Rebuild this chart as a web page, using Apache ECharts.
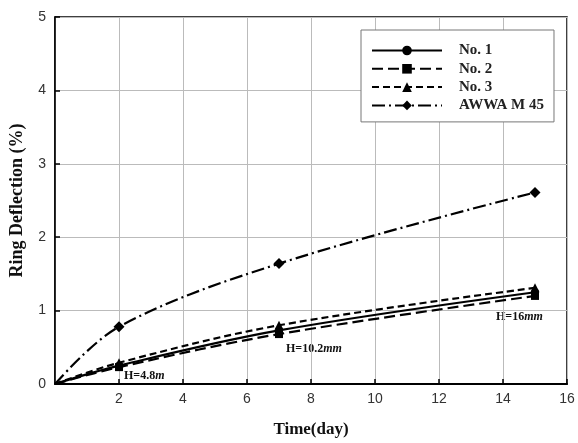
<!DOCTYPE html>
<html><head><meta charset="utf-8">
<script src="https://cdn.jsdelivr.net/npm/echarts@6/dist/echarts.min.js"></script>
<style>html,body{margin:0;padding:0;background:#fff}#c{width:578px;height:443px}</style>
</head><body><div id="c"></div>
<script>
var days = [0, 2, 7, 15];
var no1 = [0, 0.25, 0.73, 1.25];
var no2 = [0, 0.23, 0.68, 1.20];
var no3 = [0, 0.29, 0.80, 1.31];
var awwa = [0, 0.78, 1.64, 2.61];
var seriesNames = ['No. 1', 'No. 2', 'No. 3', 'AWWA M 45'];
var xTicks = [0, 2, 4, 6, 8, 10, 12, 14, 16];
var yTicks = [0, 1, 2, 3, 4, 5];

function pts(vals) {
  return days.map(function (d, i) {
    return i === 0 ? { value: [d, vals[i]], symbol: 'none' } : [d, vals[i]];
  });
}
var chart = echarts.init(document.getElementById('c'));
var serif = 'Liberation Serif';
var rich = { i: { fontFamily: serif, fontWeight: 'bold', fontStyle: 'italic', fontSize: 12, fill: '#111' } };
function mk(name, vals, dash, sym, size) {
  return {
    name: name, type: 'line', smooth: 0.35, data: pts(vals),
    symbol: sym, symbolSize: size,
    lineStyle: { color: '#000', width: 2.2, type: dash },
    itemStyle: { color: '#000' }, z: 3
  };
}
chart.setOption({
  animation: false,
  backgroundColor: '#fff',
  grid: { left: 55, right: 11, top: 17, bottom: 56, show: true, borderColor: '#000', borderWidth: 1.5 },
  xAxis: {
    type: 'value', min: xTicks[0], max: xTicks[xTicks.length - 1], interval: 2,
    name: 'Time(day)', nameLocation: 'middle', nameGap: 37,
    nameTextStyle: { fontFamily: serif, fontWeight: 'bold', fontSize: 17, color: '#111' },
    axisLine: { lineStyle: { color: '#000', width: 2 } },
    axisTick: { inside: true, length: 5, lineStyle: { color: '#000', width: 1.5 } },
    axisLabel: { showMinLabel: false, fontFamily: 'Liberation Sans', fontSize: 14, color: '#333', margin: 8 },
    splitLine: { lineStyle: { color: '#bbb', width: 1 } }
  },
  yAxis: {
    type: 'value', min: yTicks[0], max: yTicks[yTicks.length - 1], interval: 1,
    name: 'Ring Deflection (%)', nameLocation: 'middle', nameGap: 29,
    nameTextStyle: { fontFamily: serif, fontWeight: 'bold', fontSize: 18, color: '#111' },
    axisLine: { lineStyle: { color: '#000', width: 1.5 } },
    axisTick: { inside: true, length: 5, lineStyle: { color: '#000', width: 1.5 } },
    axisLabel: { fontFamily: 'Liberation Sans', fontSize: 14, color: '#333', margin: 9 },
    splitLine: { lineStyle: { color: '#bbb', width: 1 } }
  },
  legend: {
    orient: 'vertical', left: 361, top: 30,
    data: seriesNames,
    itemWidth: 70, itemHeight: 12, itemGap: 3.3,
    padding: [13, 10, 9, 10],
    backgroundColor: '#fff', borderColor: '#777', borderWidth: 1,
    textStyle: { fontFamily: serif, fontWeight: 'bold', fontSize: 15, color: '#222', padding: [0, 0, 0, 12] }
  },
  series: [
    mk(seriesNames[0], no1, 'solid', 'circle', 8),
    mk(seriesNames[1], no2, [11, 5], 'rect', 8),
    mk(seriesNames[2], no3, [7, 4], 'triangle', 9),
    mk(seriesNames[3], awwa, [13, 4, 2, 4], 'diamond', 11)
  ],
  graphic: [
    { type: 'text', left: 124, top: 370, style: { text: 'H=4.8{i|m}', font: 'bold 12px "Liberation Serif"', fill: '#111', rich: rich } },
    { type: 'text', left: 286, top: 343, style: { text: 'H=10.2{i|mm}', font: 'bold 12px "Liberation Serif"', fill: '#111', rich: rich } },
    { type: 'text', left: 496, top: 311, style: { text: 'H=16{i|mm}', font: 'bold 12px "Liberation Serif"', fill: '#111', rich: rich } }
  ]
});
</script></body></html>
